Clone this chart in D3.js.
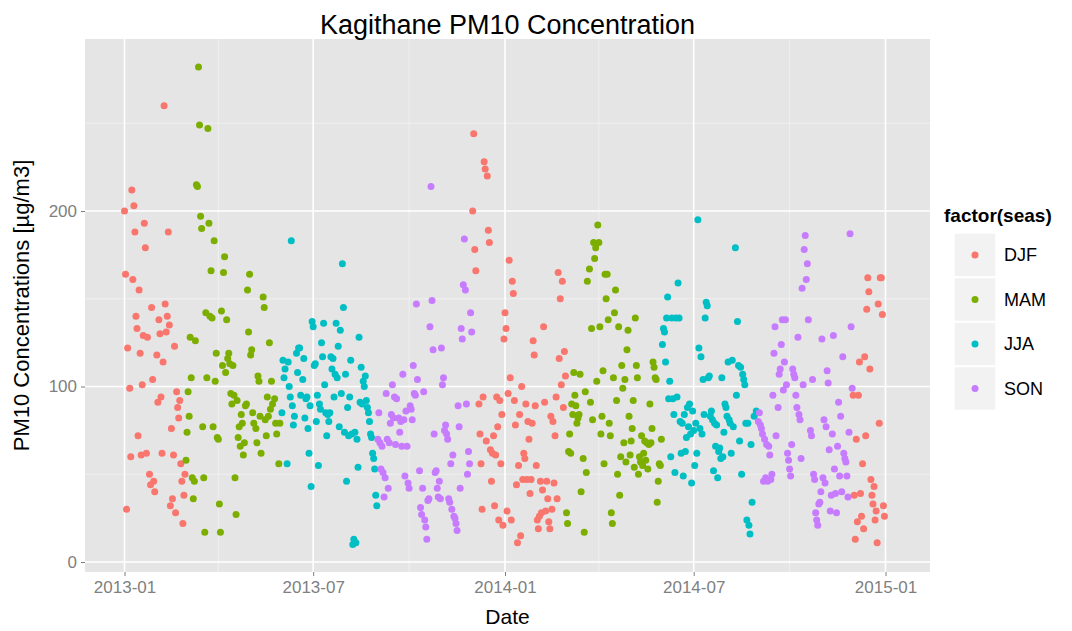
<!DOCTYPE html>
<html>
<head>
<meta charset="utf-8">
<script src="https://cdn.jsdelivr.net/npm/d3@7"></script>
<style>
  body { margin: 0; background: #fff; }
  text { font-family: "Liberation Sans", Arial, sans-serif; }
</style>
</head>
<body>
<div id="chart"></div>
<script>
// Daily PM10 values, one array per month (null = no reading)
var jan13 = [200,164,30,122,null,99,60,212,161,203,188,140,133,72,155,119,61,101,129,193,179,62,128,null,50,44,145,104,46,40,null];
var feb13 = [118,91,138,130,94,62,114,260,147,131,140,188,135,32,76,36,61,123,28,97,88,82,92,56,46,22,38,50];
var mar13 = [58,74,97,83,128,105,48,36,46,126,215,214,282,249,197,190,77,48,17,142,105,247,193,140,166,139,77,183,103,119,71];
var apr13 = [70,33,17,143,112,165,174,108,138,116,119,113,96,90,112,95,48,27,92,71,77,66,84,79,61,68,89,90,155,131];
var may13 = [164,118,121,85,79,null,76,68,106,103,83,62,null,151,145,81,72,94,83,125,87,103,90,null,93,79,73,null,56,79,null];
var jun13 = [85,115,105,110,null,56,114,100,94,183,89,78,83,null,119,108,122,122,95,null,104,116,82,93,94,76,62,89,43,137];
var jul13 = [134,112,113,80,95,55,90,87,125,117,136,101,85,72,84,80,85,117,110,116,94,107,136,105,123,77,132,96,170,145,74];
var aug13 = [107,46,88,72,94,115,73,10,13,74,11,70,54,128,91,111,90,103,100,106,92,88,85,80,73,71,62,59,53,38,32];
var sep13 = [70,85,68,53,66,51,37,48,96,70,42,68,79,84,101,82,94,67,93,null,82,74,80,66,107,81,49,86,66,45];
var oct13 = [42,89,87,81,112,96,95,147,104,null,52,31,27,42,97,24,20,13,35,36,134,214,149,121,73,51,52,42,37,46,36];
var nov13 = [122,101,105,75,78,73,70,36,34,56,30,61,26,25,22,18,89,77,42,133,127,158,184,155,90,50,63,56,142,131];
var dec13 = [200,244,178,166,null,null,90,73,56,30,94,228,224,69,220,189,182,64,46,62,72,32,61,94,77,24,92,56,84,21,127];
var jan14 = [142,133,29,96,172,105,24,160,153,92,78,44,11,55,84,15,100,47,62,59,90,47,80,70,39,47,79,126,118,89,55];
var feb14 = [24,19,26,46,28,41,134,91,29,46,36,23,19,83,30,80,45,72,94,36,165,116,150,101,160,88,120,106];
var mar14 = [28,22,63,73,62,90,84,108,95,89,79,82,84,107,40,null,59,17,97,51,160,null,167,91,133,81,182,173,179,103,192];
var apr14 = [182,134,73,83,109,56,164,150,164,138,79,72,28,22,105,142,155,92,50,134,38,60,112,99,68,104,57,121,132,83];
var may14 = [61,69,76,92,54,139,112,105,50,60,57,72,55,62,69,58,68,53,67,90,68,76,114,111,105,104,34,46,56,55,70];
var jun14 = [124,133,131,114,139,151,93,103,60,139,93,84,51,139,94,159,139,80,62,79,49,84,63,71,88,77,90,73,45,86];
var jul14 = [75,55,79,62,195,122,76,117,73,104,84,139,148,146,105,106,83,86,81,52,79,66,78,48,63,65,59,105,60,74,90];
var aug14 = [88,83,114,81,79,62,115,77,null,179,95,137,112,69,111,50,107,104,101,79,24,79,21,16,67,34,null,83,null,86,85];
var sep14 = [80,85,78,76,73,46,70,48,67,46,66,61,47,50,95,119,134,72,null,88,107,110,124,138,98,114,138,101,62,58];
var oct14 = [53,49,67,110,107,105,95,88,128,84,81,59,156,101,178,186,161,170,138,null,75,72,104,50,47,28,24,21,33,34,40];
var nov14 = [127,48,81,45,77,109,102,64,29,38,73,129,53,39,28,66,91,49,83,40,117,62,59,57,49,37,74,187,134,99];
var dec14 = [95,38,13,70,23,95,114,39,26,56,19,117,72,144,162,154,110,47,38,33,43,24,29,11,147,79,162,162,141,32,26];

var months = [jan13, feb13, mar13, apr13, may13, jun13, jul13, aug13, sep13, oct13, nov13, dec13,
              jan14, feb14, mar14, apr14, may14, jun14, jul14, aug14, sep14, oct14, nov14, dec14];

var seasons = ["DJF", "MAM", "JJA", "SON"];
var seasonColors = ["#F8766D", "#7CAE00", "#00BFC4", "#C77CFF"];
var yTicks = [0, 100, 200];
var xTickLabels = ["2013-01", "2013-07", "2014-01", "2014-07", "2015-01"];

// Flatten months into daily rows
var data = [];
months.forEach(function(arr, m) {
  arr.forEach(function(v, i) {
    if (v === null) return;
    var date = new Date(2013, m, 1 + i);
    var mo = date.getMonth();
    var seas = (mo === 11 || mo < 2) ? "DJF" : mo < 5 ? "MAM" : mo < 8 ? "JJA" : "SON";
    data.push({ date: date, pm: v, seas: seas });
  });
});

var width = 1072, height = 631;
var panel = { left: 85, right: 930, top: 39, bottom: 572 };

var svg = d3.select("#chart").append("svg")
  .attr("width", width)
  .attr("height", height);

var parseMonth = d3.timeParse("%Y-%m");
var xScale = d3.scaleTime()
  .domain([new Date(2013, 0, 1), new Date(2015, 0, 1)])
  .range([124.5, 885.5]);
var yScale = d3.scaleLinear()
  .domain([0, 200])
  .range([562, 211]);

var color = d3.scaleOrdinal().domain(seasons).range(seasonColors);

// Panel background
svg.append("rect")
  .attr("x", panel.left).attr("y", panel.top)
  .attr("width", panel.right - panel.left)
  .attr("height", panel.bottom - panel.top)
  .attr("fill", "#E5E5E5");

// Minor grid
var minorY = [50, 150, 250];
svg.selectAll(".minorY").data(minorY).enter().append("line")
  .attr("x1", panel.left).attr("x2", panel.right)
  .attr("y1", function(d) { return yScale(d); })
  .attr("y2", function(d) { return yScale(d); })
  .attr("stroke", "#F2F2F2").attr("stroke-width", 0.8);
var minorX = ["2013-04", "2013-10", "2014-04", "2014-10"].map(parseMonth);
svg.selectAll(".minorX").data(minorX).enter().append("line")
  .attr("y1", panel.top).attr("y2", panel.bottom)
  .attr("x1", function(d) { return xScale(d); })
  .attr("x2", function(d) { return xScale(d); })
  .attr("stroke", "#F2F2F2").attr("stroke-width", 0.8);

// Major grid
svg.selectAll(".majorY").data(yTicks).enter().append("line")
  .attr("x1", panel.left).attr("x2", panel.right)
  .attr("y1", function(d) { return yScale(d); })
  .attr("y2", function(d) { return yScale(d); })
  .attr("stroke", "#FFFFFF").attr("stroke-width", 1.6);
var xTickDates = xTickLabels.map(parseMonth);
svg.selectAll(".majorX").data(xTickDates).enter().append("line")
  .attr("y1", panel.top).attr("y2", panel.bottom)
  .attr("x1", function(d) { return xScale(d); })
  .attr("x2", function(d) { return xScale(d); })
  .attr("stroke", "#FFFFFF").attr("stroke-width", 1.6);

// Points
svg.append("g").selectAll("circle").data(data).enter().append("circle")
  .attr("cx", function(d) { return xScale(d.date); })
  .attr("cy", function(d) { return yScale(d.pm); })
  .attr("r", 3.5)
  .attr("fill", function(d) { return color(d.seas); });

// Axes
var xAxis = d3.axisBottom(xScale)
  .tickValues(xTickDates)
  .tickFormat(d3.timeFormat("%Y-%m"))
  .tickSize(4).tickPadding(5);
var yAxis = d3.axisLeft(yScale)
  .tickValues(yTicks)
  .tickSize(4).tickPadding(4);

var gx = svg.append("g")
  .attr("transform", "translate(0," + panel.bottom + ")")
  .call(xAxis);
var gy = svg.append("g")
  .attr("transform", "translate(" + panel.left + ",0)")
  .call(yAxis);
[gx, gy].forEach(function(g) {
  g.select(".domain").remove();
  g.selectAll(".tick line").attr("stroke", "#7F7F7F");
  g.selectAll(".tick text")
    .attr("fill", "#7F7F7F")
    .style("font-size", "17px")
    .style("font-family", "'Liberation Sans', Arial, sans-serif");
});

// Title and axis titles
svg.append("text")
  .attr("x", (panel.left + panel.right) / 2)
  .attr("y", 34)
  .attr("text-anchor", "middle")
  .style("font-size", "27px")
  .text("Kagithane PM10 Concentration");
svg.append("text")
  .attr("x", (panel.left + panel.right) / 2)
  .attr("y", 624)
  .attr("text-anchor", "middle")
  .style("font-size", "21px")
  .text("Date");
svg.append("text")
  .attr("transform", "translate(29," + ((panel.top + panel.bottom) / 2) + ")rotate(-90)")
  .attr("text-anchor", "middle")
  .style("font-size", "22px")
  .text("PM10 Concentrations [µg/m3]");

// Legend
var legend = svg.append("g").attr("transform", "translate(944,0)");
legend.append("text")
  .attr("x", 0).attr("y", 222)
  .style("font-size", "19px")
  .style("font-weight", "bold")
  .text("factor(seas)");
var keys = legend.selectAll(".key").data(seasons).enter().append("g")
  .attr("transform", function(d, i) { return "translate(10," + (233 + i * 44.5) + ")"; });
keys.append("rect")
  .attr("width", 42).attr("height", 44)
  .attr("fill", "#F2F2F2")
  .attr("stroke", "#FFFFFF").attr("stroke-width", 1.5);
keys.append("circle")
  .attr("cx", 21).attr("cy", 22).attr("r", 3.5)
  .attr("fill", function(d) { return color(d); });
keys.append("text")
  .attr("x", 50).attr("y", 28)
  .style("font-size", "18px")
  .text(function(d) { return d; });
</script>
</body>
</html>
